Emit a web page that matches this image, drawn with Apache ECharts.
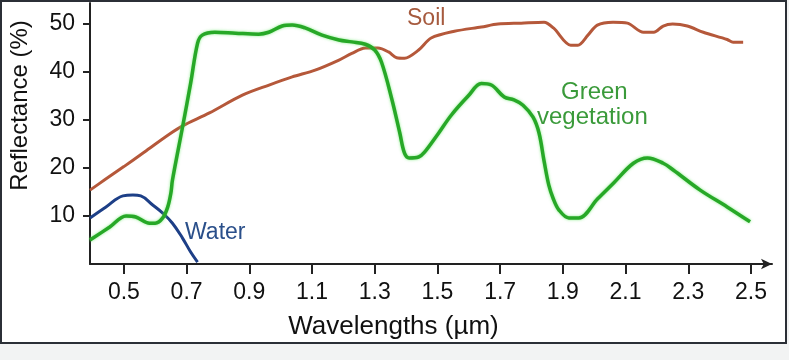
<!DOCTYPE html>
<html><head><meta charset="utf-8">
<script src="https://cdn.jsdelivr.net/npm/echarts@6/dist/echarts.min.js"></script>
<style>html,body{margin:0;padding:0;background:#f2f3f3;}#c{width:789px;height:360px;}</style>
</head><body><div id="c"></div>
<script>
// Tick labels
const xTicks = [0.5, 0.7, 0.9, 1.1, 1.3, 1.5, 1.7, 1.9, 2.1, 2.3, 2.5];
const yTicks = [10, 20, 30, 40, 50];

// Soil
const soilWl = [0.392,0.44,0.50,0.56,0.646,0.687,0.773,0.878,0.963,1.037,1.11,1.186,1.227,1.27,1.31,1.344,1.37,1.395,1.44,1.48,1.554,1.64,1.693,1.767,1.84,1.87,1.925,1.948,1.98,2.01,2.06,2.106,2.157,2.19,2.22,2.25,2.297,2.348,2.424,2.443,2.475];
const soilR  = [15.4,17.6,20.3,23.1,27.1,28.8,31.5,35.2,37.3,39.0,40.4,42.5,43.9,45.0,45.0,44.2,43.0,42.9,44.6,47.1,48.5,49.4,50.0,50.2,50.4,49.2,45.6,45.6,47.7,49.8,50.4,50.2,48.3,48.3,49.6,50.0,49.6,48.3,46.8,46.2,46.2];

// Green vegetation
const vegWl = [0.392,0.455,0.507,0.538,0.582,0.60,0.624,0.64,0.65,0.655,0.687,0.713,0.735,0.75,0.79,0.856,0.93,0.962,1.005,1.037,1.078,1.132,1.186,1.227,1.27,1.30,1.322,1.354,1.38,1.395,1.41,1.44,1.459,1.503,1.544,1.598,1.64,1.672,1.713,1.744,1.773,1.805,1.824,1.84,1.855,1.87,1.887,1.919,1.951,2.011,2.062,2.125,2.17,2.22,2.252,2.338,2.424,2.497];
const vegR  = [5.0,7.7,10.0,9.8,8.5,8.5,9.6,11.9,14.8,17.5,28.5,37.7,46.0,47.7,48.3,48.1,47.9,48.3,49.6,49.8,49.2,47.7,46.7,46.3,45.8,44.6,42.0,34.5,27.3,23.1,22.1,22.3,23.3,27.2,31.0,35.0,37.6,37.3,34.8,34.2,33.1,30.6,27.3,21.5,16.5,13.5,11.3,9.6,9.6,13.6,16.9,21.0,22.1,21.0,19.6,15.4,11.9,8.8];

// Water
const waterWl = [0.392,0.443,0.497,0.529,0.554,0.592,0.624,0.655,0.687,0.713,0.735];
const waterR  = [9.6,11.9,14.2,14.4,14.2,12.3,10.6,8.5,5.4,2.5,0.4];

const zip = (a, b) => a.map((v, i) => [v, b[i]]);

const chart = echarts.init(document.getElementById('c'), null, {renderer: 'canvas'});
const FONT = '"Liberation Sans", Arial, sans-serif';

chart.setOption({
  backgroundColor: '#f2f3f3',
  animation: false,
  graphic: [
    {type: 'rect', z: -100, silent: true,
     shape: {x: 1, y: 1, width: 785, height: 342},
     style: {fill: '#ffffff', stroke: '#2b2f36', lineWidth: 2}},
    {type: 'text', left: 407, top: 7, z: 50,
     style: {text: 'Soil', fill: '#a65a3e', font: '23px ' + FONT}},
    {type: 'text', left: 561, top: 80, z: 50,
     style: {text: 'Green', fill: '#3a9a3a', font: '24px ' + FONT}},
    {type: 'text', left: 537, top: 105, z: 50,
     style: {text: 'vegetation', fill: '#3a9a3a', font: '24px ' + FONT}},
    {type: 'text', left: 185, top: 221, z: 50,
     style: {text: 'Water', fill: '#2a4f8a', font: '23px ' + FONT}}
  ],
  grid: {left: 87, right: 17, top: 3, bottom: 96, containLabel: false},
  xAxis: {
    type: 'value', min: 0.392, max: 2.567,
    name: 'Wavelengths (µm)', nameLocation: 'middle', nameGap: 50,
    nameTextStyle: {fontFamily: FONT, fontSize: 26, color: '#111', padding: [0, 75, 0, 0]},
    axisLine: {show: true, lineStyle: {color: '#222', width: 2}, symbol: ['none', 'arrow'], symbolSize: [8, 11]},
    axisTick: {show: true, length: 10, inside: false, lineStyle: {color: '#222', width: 2}, customValues: xTicks},
    axisLabel: {show: true, margin: 17, fontFamily: FONT, fontSize: 23, color: '#111', customValues: xTicks,
                formatter: v => v.toFixed(1)},
    splitLine: {show: false}
  },
  yAxis: {
    type: 'value', min: 0, max: 54.4,
    name: 'Reflectance (%)', nameLocation: 'middle', nameGap: 58,
    nameTextStyle: {fontFamily: FONT, fontSize: 24, color: '#111', padding: [0, 0, 0, 56]},
    axisLine: {show: true, lineStyle: {color: '#222', width: 2}},
    axisTick: {show: true, length: 7, inside: false, lineStyle: {color: '#222', width: 2}, customValues: yTicks},
    axisLabel: {show: true, margin: 15, fontFamily: FONT, fontSize: 23, color: '#111', customValues: yTicks},
    splitLine: {show: false}
  },
  series: [
    {name: 'Soil', type: 'line', data: zip(soilWl, soilR), smooth: 0.3, symbol: 'none',
     lineStyle: {color: '#b5583a', width: 3}},
    {name: 'Water', type: 'line', data: zip(waterWl, waterR), smooth: 0.4, symbol: 'none',
     lineStyle: {color: '#1d3f87', width: 3}},
    {name: 'Green vegetation', type: 'line', data: zip(vegWl, vegR), smooth: 0.35, symbol: 'none',
     lineStyle: {color: '#27a827', width: 3.5, shadowColor: 'rgba(90,230,90,0.7)', shadowBlur: 3}}
  ]
});
</script></body></html>
